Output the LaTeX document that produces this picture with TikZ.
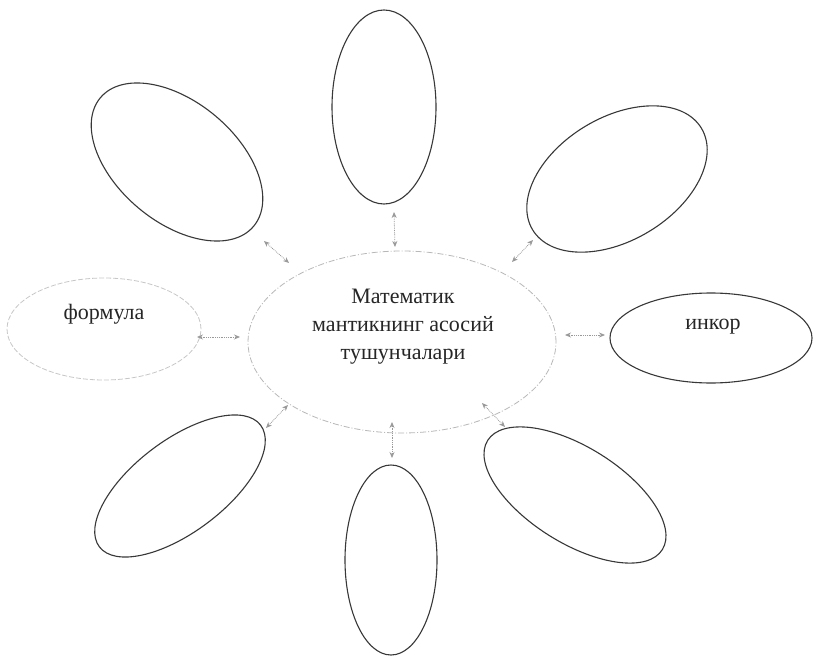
\documentclass[tikz,border=0pt]{standalone}
\usepackage{fontspec}
\setmainfont{Liberation Serif}
\usetikzlibrary{shapes.geometric,arrows.meta}
\tikzset{
  petal/.style={draw=black!78, line width=1.1pt, ellipse, inner sep=0pt},
  centre/.style={draw=black!28, line width=0.8pt, ellipse, inner sep=0pt, dash pattern=on 6pt off 2pt on 1pt off 2pt},
  faint/.style={draw=black!22, line width=0.8pt, ellipse, inner sep=0pt, dash pattern=on 5pt off 2pt},
  lbl/.style={font=\fontsize{22}{28}\selectfont, text=black!85, align=center},
  link/.style={draw=black!40, line width=0.8pt, densely dotted,
    {Stealth[length=6pt,width=5pt]}-{Stealth[length=6pt,width=5pt]}}
}
\begin{document}
\begin{tikzpicture}[x=1pt,y=-1pt]
\fill[white] (0,0) rectangle (817,658);
\useasboundingbox (0,0) rectangle (817,658);

% central ellipse
\node[centre, minimum width=308pt, minimum height=182pt] (c) at (402,342) {};
\node[lbl] (ct) at (403,327) {Математик\\мантикнинг асосий\\тушунчалари};

% surrounding ellipses
\node[petal, minimum width=104pt, minimum height=194pt] (t) at (384,107) {};
\node[petal, minimum width=200pt, minimum height=120pt, rotate=-40] (tl) at (177,162) {};
\node[petal, minimum width=197pt, minimum height=123pt, rotate=31] (tr) at (617,179) {};
\node[faint, minimum width=194pt, minimum height=102pt] (f) at (104,329) {};
\node[lbl] (ft) at (104,314) {формула};
\node[petal, minimum width=202pt, minimum height=90pt] (r) at (711,338) {};
\node[lbl] (rt) at (713,327) {инкор};
\node[petal, minimum width=202pt, minimum height=92pt, rotate=37] (bl) at (180,486) {};
\node[petal, minimum width=206pt, minimum height=96pt, rotate=-32] (br) at (575,495) {};
\node[petal, minimum width=92pt, minimum height=190pt] (b) at (391,560) {};

% arrow end points
\coordinate (a1s) at (394,212); \coordinate (a1e) at (395,247);
\coordinate (a2s) at (264,241); \coordinate (a2e) at (289,263);
\coordinate (a3s) at (533,240); \coordinate (a3e) at (512,262);
\coordinate (a4s) at (197,337); \coordinate (a4e) at (240,337);
\coordinate (a5s) at (565,335); \coordinate (a5e) at (605,335);
\coordinate (a6s) at (288,405); \coordinate (a6e) at (266,428);
\coordinate (a7s) at (392,422); \coordinate (a7e) at (392,458);
\coordinate (a8s) at (482,403); \coordinate (a8e) at (505,427);

\draw[link] (a1s) -- (a1e);
\draw[link] (a2s) -- (a2e);
\draw[link] (a3s) -- (a3e);
\draw[link] (a4s) -- (a4e);
\draw[link] (a5s) -- (a5e);
\draw[link] (a6s) -- (a6e);
\draw[link] (a7s) -- (a7e);
\draw[link] (a8s) -- (a8e);
\end{tikzpicture}
\end{document}
